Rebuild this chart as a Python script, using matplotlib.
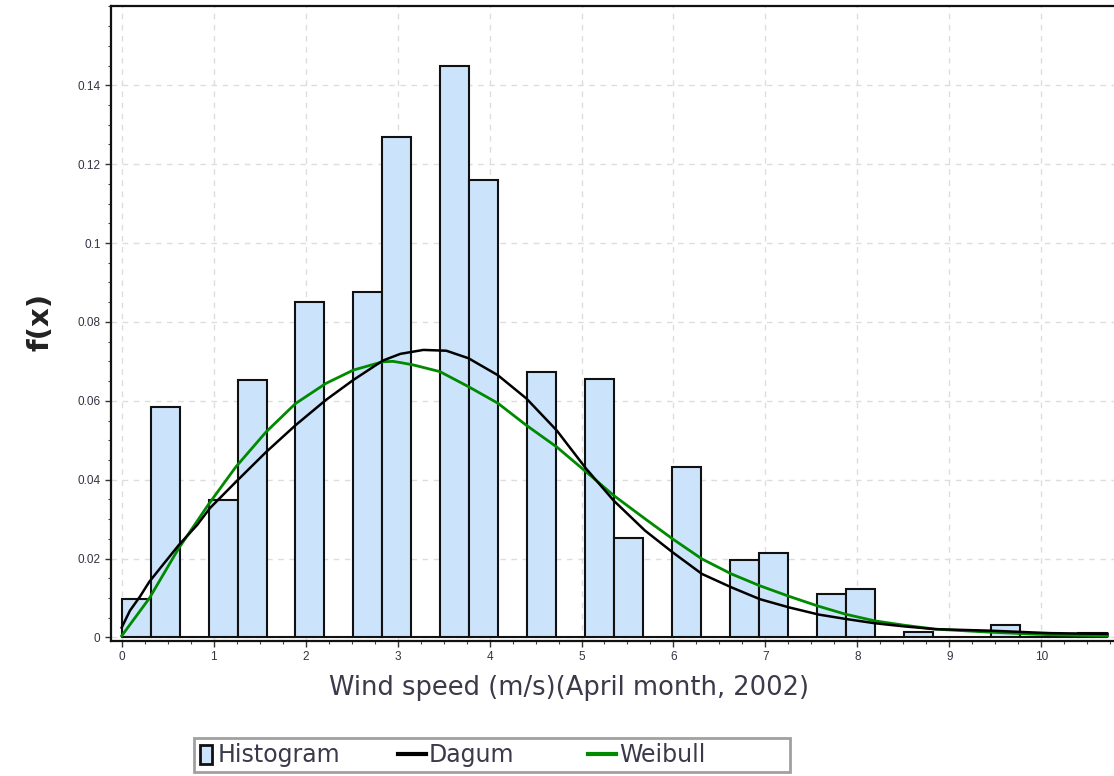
import numpy as np
import matplotlib
matplotlib.use("Agg")
import matplotlib.pyplot as plt
from matplotlib.patches import Rectangle
from matplotlib.lines import Line2D
from matplotlib.ticker import MultipleLocator

# ---- data ----
bin_width = 0.315
hist_freq = [0.0098, 0.0585, 0.0, 0.0349, 0.0654, 0.0, 0.085, 0.0, 0.0877, 0.127,
             0.0, 0.145, 0.116, 0.0, 0.0673, 0.0, 0.0656, 0.0253, 0.0, 0.0433,
             0.0, 0.0197, 0.0214, 0.0, 0.011, 0.0123, 0.0, 0.00135, 0.0, 0.0,
             0.0032, 0.0012, 0.0010, 0.0012]

dagum_x = [0, 0.09, 0.20, 0.30, 0.42, 0.62, 0.82, 0.96, 1.24, 1.57, 1.89, 2.22,
           2.52, 2.84, 3.03, 3.28, 3.53, 3.77, 4.09, 4.40, 4.73, 5.05, 5.35, 5.69,
           5.99, 6.31, 6.63, 6.94, 7.26, 7.58, 7.87, 8.19, 8.51, 8.85, 9.47, 10.08,
           10.72]
dagum_y = [0.0025, 0.0068, 0.0104, 0.0141, 0.0176, 0.0234, 0.0285, 0.0328, 0.0394,
           0.0470, 0.0538, 0.0602, 0.0653, 0.0702, 0.0719, 0.0729, 0.0727, 0.0708,
           0.0665, 0.0606, 0.0525, 0.0428, 0.0347, 0.0271, 0.0216, 0.0161, 0.0127,
           0.0097, 0.0076, 0.0058, 0.0047, 0.0036, 0.0028, 0.0021, 0.0017, 0.0011,
           0.0009]

weibull_x = [0, 0.30, 0.62, 0.94, 1.24, 1.57, 1.89, 2.22, 2.52, 2.84, 2.95, 3.03,
             3.17, 3.46, 3.77, 4.09, 4.40, 4.73, 5.05, 5.35, 5.69, 5.99, 6.31, 6.63,
             6.94, 7.26, 7.58, 7.87, 8.19, 8.51, 8.85, 9.47, 10.08, 10.72]
weibull_y = [0.0004, 0.0099, 0.0226, 0.0336, 0.0432, 0.0521, 0.0593, 0.0644, 0.0678,
             0.0699, 0.0700, 0.0697, 0.0691, 0.0674, 0.0636, 0.0594, 0.0538, 0.0483,
             0.0420, 0.0360, 0.0301, 0.0250, 0.0199, 0.0161, 0.0131, 0.0104, 0.0079,
             0.0059, 0.0042, 0.0031, 0.0021, 0.0013, 0.0007, 0.0004]

x_ticks = list(range(0, 11))
y_ticks = [0, 0.02, 0.04, 0.06, 0.08, 0.1, 0.12, 0.14]
y_tick_labels = ["0", "0.02", "0.04", "0.06", "0.08", "0.1", "0.12", "0.14"]
legend_labels = ["Histogram", "Dagum", "Weibull"]

HIST_FACE = "#cce4fb"
DAGUM_C = "black"
WEIBULL_C = "#008a00"
TEXT_C = "#3a3a4a"

W, H = 1114, 776
fig = plt.figure(figsize=(W / 100, H / 100), dpi=100)
ax = fig.add_axes([111 / W, (H - 641) / H, 1 - 111 / W, (641 - 6) / H])

edges = np.arange(len(hist_freq)) * bin_width
ax.bar(edges, hist_freq, width=bin_width, align="edge", color=HIST_FACE,
       edgecolor="#111111", linewidth=1.5, zorder=2)
ax.plot(weibull_x, weibull_y, color=WEIBULL_C, lw=2, zorder=3)
ax.plot(dagum_x, dagum_y, color=DAGUM_C, lw=1.8, zorder=4)

ax.set_xlim(-0.116, 10.79)
ax.set_ylim(-0.0009, 0.1601)
ax.set_xticks(x_ticks)
ax.set_yticks(y_ticks)
ax.set_yticklabels(y_tick_labels)
ax.xaxis.set_minor_locator(MultipleLocator(0.25))
ax.yaxis.set_minor_locator(MultipleLocator(0.005))
ax.tick_params(axis="both", which="major", direction="out", length=4, width=1,
               labelsize=8.5, labelcolor="#333344", color="#333333")
ax.tick_params(axis="both", which="minor", direction="out", length=2.5, width=0.8,
               color="#444444")
for lab in ax.get_xticklabels() + ax.get_yticklabels():
    lab.set_fontfamily("Liberation Sans")

ax.grid(True, which="major", color="#dddddd", linestyle=(0, (4, 4)), lw=1, zorder=0)
ax.set_axisbelow(True)

for s in ["left", "bottom", "top"]:
    ax.spines[s].set_linewidth(1.6)
    ax.spines[s].set_color("#111111")
ax.spines["right"].set_visible(False)


def fx(px):
    return px / W


def fy(py):
    return 1 - py / H


fig.text(fx(569), fy(688), "Wind speed (m/s)(April month, 2002)",
         ha="center", va="center", fontsize=18.5, color=TEXT_C,
         family="DejaVu Sans")
fig.text(fx(40), fy(322), "f(x)", rotation=90, ha="center", va="center",
         fontsize=21, fontweight="bold", color="#222222", family="DejaVu Sans")

# ---- legend (placed as in the reference) ----
fig.add_artist(Rectangle((fx(194), fy(772)), fx(790) - fx(194), fy(738) - fy(772),
                         transform=fig.transFigure, facecolor="white",
                         edgecolor="#a0a0a0", linewidth=2))
fig.add_artist(Rectangle((fx(200), fy(764)), fx(212) - fx(200), fy(745) - fy(764),
                         transform=fig.transFigure, facecolor=HIST_FACE,
                         edgecolor="#111111", linewidth=2))
fig.add_artist(Line2D([fx(398), fx(426)], [fy(754), fy(754)],
                      transform=fig.transFigure, color=DAGUM_C, lw=3))
fig.add_artist(Line2D([fx(588), fx(616)], [fy(754), fy(754)],
                      transform=fig.transFigure, color=WEIBULL_C, lw=3))
leg_font = dict(fontsize=17, color=TEXT_C, family="DejaVu Sans", va="center",
                ha="left")
fig.text(fx(218), fy(755), legend_labels[0], **leg_font)
fig.text(fx(429), fy(755), legend_labels[1], **leg_font)
fig.text(fx(619), fy(755), legend_labels[2], **leg_font)

fig.savefig("out.png", dpi=100)
